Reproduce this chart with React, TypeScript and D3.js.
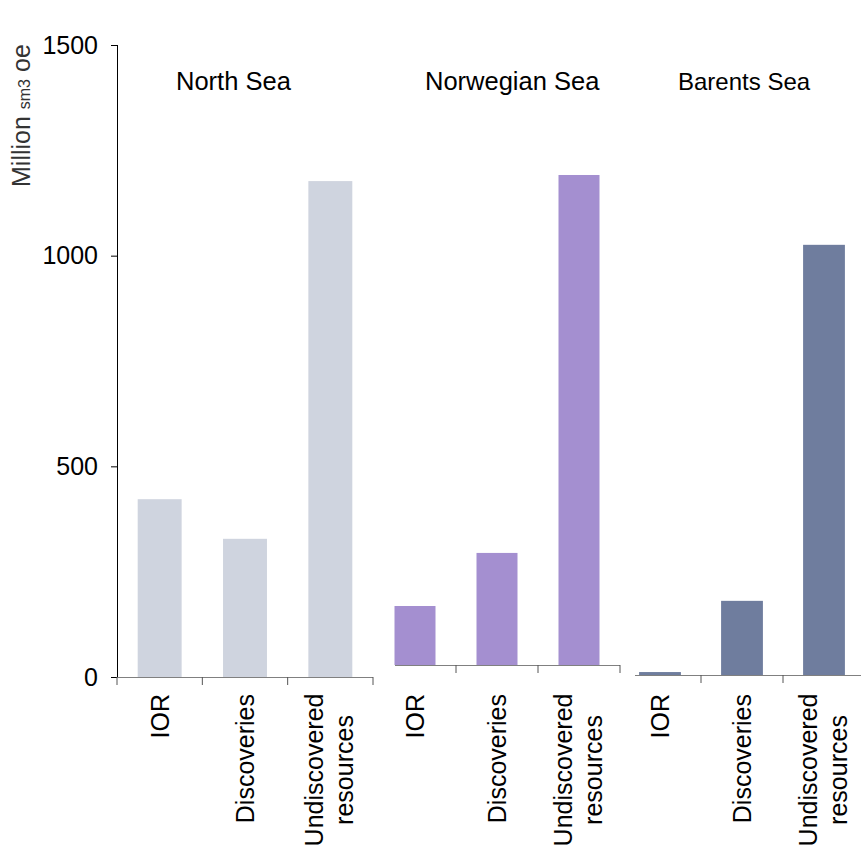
import React from "react";
import * as d3 from "d3";

const categories = ["IOR", "Discoveries", "Undiscovered resources"];
const regions = ["North Sea", "Norwegian Sea", "Barents Sea"];
const northSea = [422, 328, 1177];
const norwegianSea = [140, 266, 1163];
const barentsSea = [7, 176, 1021];
const regionValues = [northSea, norwegianSea, barentsSea];
const yTicks = [0, 500, 1000, 1500];
const colors = ["#cfd4df", "#a48fd0", "#6f7d9e"];

const W = 861;
const H = 854;
const FONT = "'Liberation Sans', Arial, sans-serif";

// panel layout
const panels = [
  { x0: 117, x1: 373, base: 677, pad: 0.485, lineStart: 117, lineEnd: 373, ticks: [0, 1, 2, 3], titleX: 176, titleSize: 25.5 },
  { x0: 374, x1: 620, base: 665, pad: 0.5, lineStart: 395, lineEnd: 620, ticks: [1, 2, 3], titleX: 425, titleSize: 25.5 },
  { x0: 619, x1: 865, base: 675, pad: 0.49, lineStart: 635, lineEnd: 865, ticks: [1, 2, 3], titleX: 678, titleSize: 24 },
];
const plotHeight = 632;
const yMax = 1500;

export default function App() {
  const mainY = d3.scaleLinear().domain([0, yMax]).range([677, 677 - plotHeight]);
  return (
    <svg
      width={W}
      height={H}
      style={{ position: "absolute", left: 0, top: 0, background: "#fff" }}
      fontFamily={FONT}
    >
      <rect x={0} y={0} width={W} height={H} fill="#fff" />
      {/* Y axis */}
      <line x1={117.5} x2={117.5} y1={mainY(yMax)} y2={mainY(0)} stroke="#000" strokeWidth={1} />
      {yTicks.map((t) => (
        <g key={t}>
          <line x1={111} x2={117.5} y1={mainY(t) + 0.5} y2={mainY(t) + 0.5} stroke="#000" strokeWidth={1} />
          <text x={98} y={mainY(t)} dy="0.35em" textAnchor="end" fontSize={25} fill="#000">
            {t}
          </text>
        </g>
      ))}
      <text transform={`translate(30,187) rotate(-90)`} textAnchor="start" fill="#333" fontSize={25}>
        <tspan>Million </tspan>
        <tspan fontSize={16}>sm3</tspan>
        <tspan> oe</tspan>
      </text>

      {panels.map((p, i) => {
        const x = d3
          .scaleBand<string>()
          .domain(categories)
          .range([p.x0, p.x1])
          .paddingInner(p.pad)
          .paddingOuter(p.pad / 2);
        const step = (p.x1 - p.x0) / categories.length;
        const y = d3.scaleLinear().domain([0, yMax]).range([p.base, p.base - plotHeight]);
        const vals = regionValues[i];
        return (
          <g key={regions[i]}>
            <text x={p.titleX} y={90} fontSize={p.titleSize} fill="#000">
              {regions[i]}
            </text>
            {categories.map((c, j) => (
              <rect
                key={c}
                x={x(c)}
                y={y(vals[j])}
                width={x.bandwidth()}
                height={y(0) - y(vals[j])}
                fill={colors[i]}
              />
            ))}
            <line x1={p.lineStart} x2={p.lineEnd} y1={p.base + 0.5} y2={p.base + 0.5} stroke="#808080" strokeWidth={1.2} />
            {p.ticks.map((k) => (
              <line
                key={k}
                x1={p.x0 + k * step}
                x2={p.x0 + k * step}
                y1={p.base}
                y2={p.base + 8}
                stroke="#555"
                strokeWidth={1}
              />
            ))}
            {categories.map((c) => {
              const cx = (x(c) as number) + x.bandwidth() / 2;
              const lines = c === "Undiscovered resources" ? ["Undiscovered", "resources"] : [c];
              if (lines.length === 1) {
                return (
                  <text
                    key={c}
                    transform={`translate(${cx + 9},694) rotate(-90)`}
                    textAnchor="end"
                    fontSize={25}
                    fill="#000"
                  >
                    {c}
                  </text>
                );
              }
              return (
                <text
                  key={c}
                  transform={`translate(${cx - 7},770) rotate(-90)`}
                  textAnchor="middle"
                  fontSize={25}
                  fill="#000"
                >
                  {lines.map((l, li) => (
                    <tspan key={l} x={0} dy={li === 0 ? 0 : 30}>
                      {l}
                    </tspan>
                  ))}
                </text>
              );
            })}
          </g>
        );
      })}
    </svg>
  );
}
